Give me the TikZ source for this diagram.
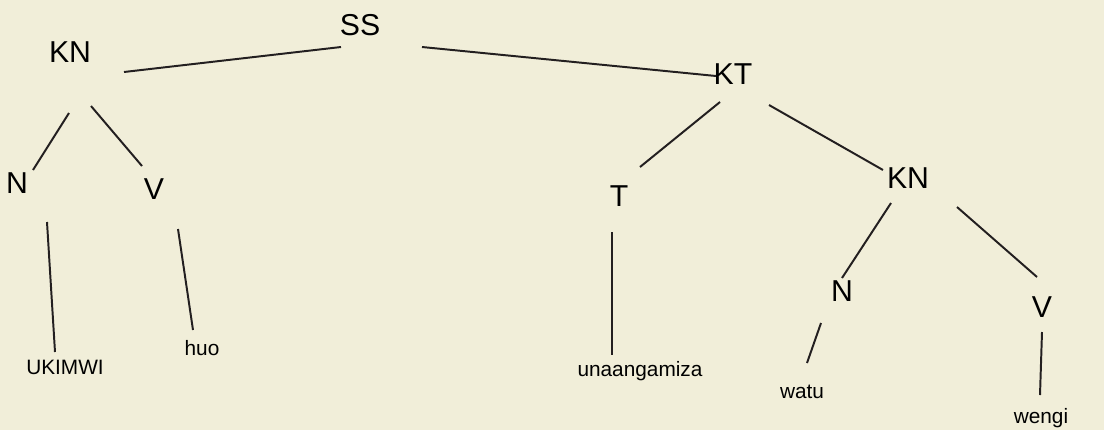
\documentclass[tikz,border=0pt]{standalone}
\usepackage{fontspec}
\setmainfont{Liberation Sans}
\usetikzlibrary{calc}

\definecolor{paper}{HTML}{F1EED9}
\definecolor{ink}{HTML}{231F20}

\begin{document}
\begin{tikzpicture}[x=0.025cm,y=-0.025cm,
	cat/.style={anchor=base,inner sep=0pt,font=\fontsize{21.5}{24}\selectfont},
	word/.style={anchor=base,inner sep=0pt,font=\fontsize{14.8}{17}\selectfont},
	branch/.style={draw=ink,line width=1.4pt}]

	% background and page size
	\fill[paper] (0,0) rectangle (1104,430);
	\useasboundingbox (0,0) rectangle (1104,430);

	% top of the tree
	\node[cat] (SS) at (360,35) {SS};
	\node[cat] (KN1) at (70,62) {KN};
	\node[cat] (KT) at (733,84) {KT};

	% left noun phrase
	\node[cat] (N1) at (17,193) {N};
	\node[cat] (V1) at (154,199) {V};
	\node[word] (w1) at (65,374) {UKIMWI};
	\node[word] (w2) at (202,355) {huo};

	% verb phrase
	\node[cat] (T) at (619,206) {T};
	\node[cat] (KN2) at (908,188) {KN};
	\node[cat] (N2) at (842,301) {N};
	\node[cat] (V2) at (1042,317) {V};
	\node[word] (w3) at (640,376) {unaangamiza};
	\node[word] (w4) at (802,398) {watu};
	\node[word] (w5) at (1041,423) {wengi};

	% define the end points of the branches
	\coordinate (SSa) at (341,47);
	\coordinate (SSb) at (422,47);
	\coordinate (KN1a) at (124,72);
	\coordinate (KN1b) at (69,113);
	\coordinate (KN1c) at (91,106);
	\coordinate (KTa) at (716,76);
	\coordinate (KTb) at (720,102);
	\coordinate (KTc) at (769,105);
	\coordinate (N1a) at (33,170);
	\coordinate (N1b) at (47,222);
	\coordinate (V1a) at (142,166);
	\coordinate (V1b) at (178,229);
	\coordinate (w1a) at (55,352);
	\coordinate (w2a) at (193,330);
	\coordinate (Ta) at (640,167);
	\coordinate (Tb) at (612,232);
	\coordinate (w3a) at (612,355);
	\coordinate (KN2a) at (883,170);
	\coordinate (KN2b) at (891,203);
	\coordinate (KN2c) at (957,207);
	\coordinate (N2a) at (842,278);
	\coordinate (N2b) at (821,323);
	\coordinate (w4a) at (807,363);
	\coordinate (V2a) at (1037,277);
	\coordinate (V2b) at (1042,332);
	\coordinate (w5a) at (1040,395);

	% draw the branches
	\draw[branch] (KN1a) -- (SSa) (SSb) -- (KTa);
	\draw[branch] (KN1b) -- (N1a) (KN1c) -- (V1a);
	\draw[branch] (N1b) -- (w1a) (V1b) -- (w2a);
	\draw[branch] (KTb) -- (Ta) (KTc) -- (KN2a);
	\draw[branch] (Tb) -- (w3a);
	\draw[branch] (KN2b) -- (N2a) (KN2c) -- (V2a);
	\draw[branch] (N2b) -- (w4a) (V2b) -- (w5a);

\end{tikzpicture}
\end{document}
